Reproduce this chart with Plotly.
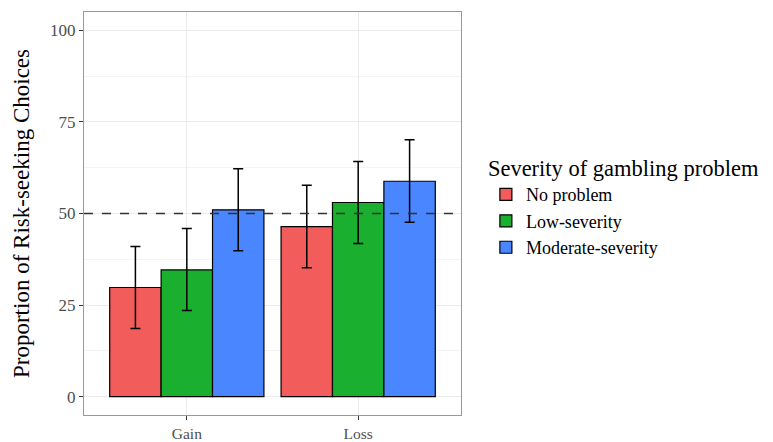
import plotly.graph_objects as go

conditions = ["Gain", "Loss"]
groups = ["No problem", "Low-severity", "Moderate-severity"]
means = {
    "No problem": [29.8, 46.4],
    "Low-severity": [34.6, 53.0],
    "Moderate-severity": [51.0, 58.8],
}
err_upper = {
    "No problem": [11.2, 11.3],
    "Low-severity": [11.3, 11.2],
    "Moderate-severity": [11.2, 11.3],
}
err_lower = {
    "No problem": [11.2, 11.2],
    "Low-severity": [11.1, 11.2],
    "Moderate-severity": [11.2, 11.2],
}
colors = {
    "No problem": "#F25C5A",
    "Low-severity": "#1AAF2E",
    "Moderate-severity": "#4A86FF",
}
reference_line = 50
y_ticks = [0, 25, 50, 75, 100]

FONT = "Liberation Serif, Times New Roman, serif"

fig = go.Figure()
for g in groups:
    fig.add_trace(go.Bar(
        name=g, x=conditions, y=means[g],
        marker=dict(color=colors[g], line=dict(color="black", width=1.2)),
        error_y=dict(type="data", symmetric=False, array=err_upper[g],
                     arrayminus=err_lower[g], color="black", thickness=1.5, width=5),
    ))

fig.add_hline(y=reference_line, line=dict(color="#333333", width=1.6, dash="dash"))

# page body has an 8px margin, so the figure is sized to fit the 773x442 window
fig.update_layout(
    width=765, height=434,
    margin=dict(l=76, r=312, t=4, b=27, autoexpand=False),
    barmode="group", bargap=0.1, bargroupgap=0,
    plot_bgcolor="white", paper_bgcolor="white",
    font=dict(family=FONT, color="#4D4D4D", size=17),
    showlegend=True,
    legend=dict(
        title=dict(text="Severity of gambling problem", font=dict(size=22.5, color="black", family=FONT)),
        font=dict(size=18, color="black", family=FONT),
        x=1.066, xanchor="left", y=0.665, yanchor="top",
        bgcolor="rgba(0,0,0,0)", tracegroupgap=0, itemwidth=30,
    ),
    xaxis=dict(
        range=[-0.6, 1.6], showgrid=True, gridcolor="#EBEBEB", gridwidth=1,
        ticks="outside", ticklen=4, tickcolor="#333333", automargin=False,
        showline=True, mirror=True, linecolor="#999999", linewidth=1,
        tickfont=dict(size=15.5, color="#4D4D4D"), zeroline=False,
    ),
    yaxis=dict(
        range=[-5, 105], tickvals=y_ticks, showgrid=True, gridcolor="#EBEBEB", gridwidth=1,
        minor=dict(dtick=12.5, tick0=0, showgrid=True, gridcolor="#F4F4F4", gridwidth=1),
        ticks="outside", ticklen=4, tickcolor="#333333", automargin=False,
        showline=True, mirror=True, linecolor="#999999", linewidth=1,
        tickfont=dict(size=17, color="#4D4D4D"), zeroline=False,
        title=dict(text="Proportion of Risk-seeking Choices", font=dict(size=23, color="black"), standoff=14),
    ),
)

fig.write_html("out.html")
